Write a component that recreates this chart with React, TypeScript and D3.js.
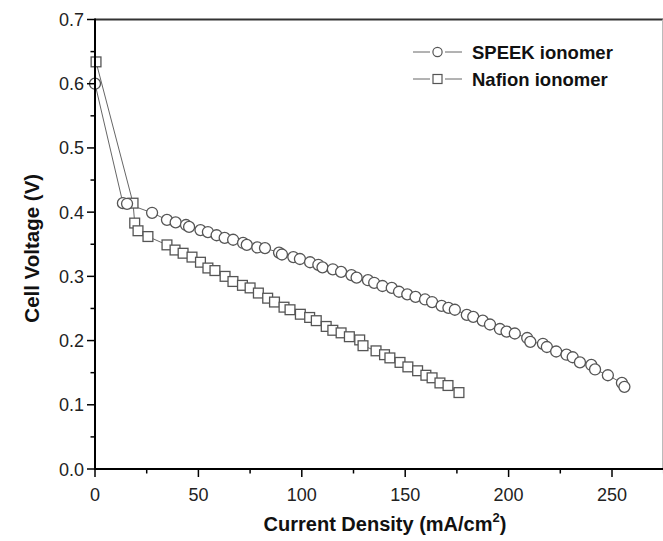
import React from "react";
import * as d3 from "d3";

const speekX = [0, 13.5, 15.5, 27.6, 34.8, 39, 44, 45.5, 51, 54.6, 58.8, 62.7, 66.8, 71.6, 73.4, 78.5, 82.2, 89, 90.4, 95.9, 99.1, 104, 108, 110, 115, 119, 124, 126.5, 132, 135, 139, 143.5, 147, 151, 155, 159.6, 163, 167.6, 170.9, 174, 179.8, 182.9, 187.5, 191, 195.8, 199, 203, 209, 210.5, 216.6, 218.5, 223, 228, 231, 234.5, 240, 241.8, 248, 254.8, 256];
const speekY = [0.600, 0.414, 0.413, 0.399, 0.388, 0.384, 0.380, 0.377, 0.372, 0.369, 0.364, 0.360, 0.357, 0.352, 0.349, 0.345, 0.344, 0.337, 0.334, 0.330, 0.327, 0.322, 0.318, 0.314, 0.311, 0.307, 0.302, 0.298, 0.294, 0.290, 0.285, 0.282, 0.276, 0.272, 0.268, 0.264, 0.260, 0.254, 0.251, 0.248, 0.240, 0.237, 0.231, 0.225, 0.218, 0.214, 0.211, 0.204, 0.198, 0.195, 0.190, 0.183, 0.178, 0.174, 0.166, 0.162, 0.155, 0.146, 0.134, 0.128];

const nafionX = [0.5, 18.4, 19.2, 20.8, 25.6, 34.8, 38.7, 42.6, 46.9, 51, 54.6, 58, 62.9, 66.7, 71.3, 75, 79, 83.5, 86.8, 91.4, 94.3, 99.3, 103.8, 107, 111.8, 115, 119, 123, 128, 129.6, 135.9, 140, 142.6, 147.5, 151.3, 156, 160, 163, 166.8, 170.7, 176];
const nafionY = [0.634, 0.414, 0.383, 0.371, 0.362, 0.349, 0.341, 0.336, 0.330, 0.322, 0.313, 0.309, 0.300, 0.292, 0.286, 0.282, 0.274, 0.266, 0.260, 0.252, 0.248, 0.241, 0.236, 0.231, 0.222, 0.216, 0.212, 0.206, 0.201, 0.192, 0.184, 0.178, 0.173, 0.166, 0.159, 0.153, 0.146, 0.142, 0.134, 0.130, 0.119];

const xMajorTicks = [0, 50, 100, 150, 200, 250];
const xMinorTicks = [25, 75, 125, 175, 225, 275];
const yMajorTicks = [0, 0.1, 0.2, 0.3, 0.4, 0.5, 0.6, 0.7];
const yMinorTicks = [0.05, 0.15, 0.25, 0.35, 0.45, 0.55, 0.65];
const legendLabels = ["SPEEK ionomer", "Nafion ionomer"];

const W = 663;
const H = 541;
const left = 95;
const right = 663.7;
const top = 19.5;
const bottom = 469;

export default function App() {
  const x = d3.scaleLinear().domain([0, 275]).range([left, right]);
  const y = d3.scaleLinear().domain([0, 0.7]).range([bottom, top]);
  const speek = speekX.map((v, i) => [v, speekY[i]] as [number, number]);
  const nafion = nafionX.map((v, i) => [v, nafionY[i]] as [number, number]);
  const line = d3.line<[number, number]>().x((d) => x(d[0])).y((d) => y(d[1]));
  const font = "'Liberation Sans', Arial, Helvetica, sans-serif";
  const lineColor = "#666";
  const markColor = "#555";
  const r = 5.5;
  const s = 9.8;

  return (
    <div style={{ position: "absolute", left: 0, top: 0 }}>
      <svg width={W} height={H} style={{ display: "block", background: "#fff" }} fontFamily={font}>
        {/* frame */}
        <line x1={left} x2={W} y1={top} y2={top} stroke="#333" strokeWidth={2} />
        <line x1={662.5} x2={662.5} y1={top} y2={bottom} stroke="#bbb" strokeWidth={1} />
        {/* series lines */}
        <path d={line(speek) || ""} fill="none" stroke={lineColor} strokeWidth={1} />
        <path d={line(nafion) || ""} fill="none" stroke={lineColor} strokeWidth={1} />
        {/* markers */}
        {nafion.map((d, i) => (
          <rect key={"n" + i} x={x(d[0]) - s / 2} y={y(d[1]) - s / 2} width={s} height={s} fill="#fff" stroke={markColor} strokeWidth={1.3} />
        ))}
        {speek.map((d, i) => (
          <circle key={"s" + i} cx={x(d[0])} cy={y(d[1])} r={r} fill="#fff" stroke={markColor} strokeWidth={1.3} />
        ))}
        {/* axes */}
        <line x1={left} x2={W} y1={bottom} y2={bottom} stroke="#000" strokeWidth={2} />
        <line x1={left} x2={left} y1={top - 1} y2={bottom + 1} stroke="#000" strokeWidth={2} />
        {xMajorTicks.map((t) => (
          <g key={"xt" + t}>
            <line x1={x(t)} x2={x(t)} y1={bottom} y2={bottom + 8} stroke="#000" strokeWidth={1.5} />
            <text x={x(t)} y={bottom + 32} textAnchor="middle" fontSize={18} fill="#222">{t}</text>
          </g>
        ))}
        {xMinorTicks.map((t) => (
          <line key={"xm" + t} x1={x(t)} x2={x(t)} y1={bottom} y2={bottom + 4.5} stroke="#000" strokeWidth={1.5} />
        ))}
        {yMajorTicks.map((t) => (
          <g key={"yt" + t}>
            <line x1={left - 8} x2={left} y1={y(t)} y2={y(t)} stroke="#000" strokeWidth={1.5} />
            <text x={left - 11} y={y(t) + 6.5} textAnchor="end" fontSize={18} fill="#222">{t.toFixed(1)}</text>
          </g>
        ))}
        {yMinorTicks.map((t) => (
          <line key={"ym" + t} x1={left - 4.5} x2={left} y1={y(t)} y2={y(t)} stroke="#000" strokeWidth={1.5} />
        ))}
        {/* axis titles */}
        <text x={(left + W) / 2 + 6} y={531} textAnchor="middle" fontSize={20} fontWeight="bold" fill="#111">
          Current Density (mA/cm<tspan dy={-9} fontSize={13}>2</tspan><tspan dy={9}>)</tspan>
        </text>
        <text transform={`translate(39, ${(top + bottom) / 2 + 4}) rotate(-90)`} textAnchor="middle" fontSize={20.5} fontWeight="bold" fill="#111">
          Cell Voltage (V)
        </text>
        {/* legend */}
        {legendLabels.map((lab, i) => {
          const cy = 52 + i * 27;
          return (
            <g key={"lg" + i}>
              <line x1={413} x2={430} y1={cy} y2={cy} stroke={lineColor} strokeWidth={1} />
              <line x1={445} x2={462} y1={cy} y2={cy} stroke={lineColor} strokeWidth={1} />
              {i === 0 ? (
                <circle cx={437.5} cy={cy} r={4.6} fill="#fff" stroke={markColor} strokeWidth={1.2} />
              ) : (
                <rect x={437.5 - 4.5} y={cy - 4.5} width={9} height={9} fill="#fff" stroke={markColor} strokeWidth={1.2} />
              )}
              <text x={472} y={cy + 6.5} fontSize={18.5} fontWeight="bold" fill="#111">{lab}</text>
            </g>
          );
        })}
      </svg>
    </div>
  );
}
